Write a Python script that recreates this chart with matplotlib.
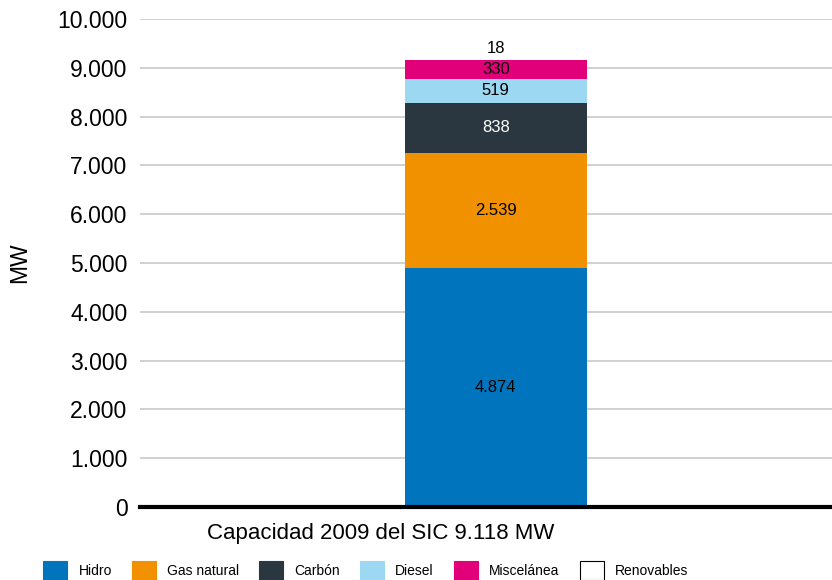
import matplotlib.pyplot as plt
from matplotlib.patches import Patch

plt.rcParams['font.family'] = ['Liberation Sans Narrow', 'Liberation Sans', 'DejaVu Sans']

# Datos
fuentes = ['Hidro', 'Gas natural', 'Carbón', 'Diesel', 'Miscelánea', 'Renovables']
capacidad = [4874, 2539, 838, 519, 330, 18]          # valores rotulados
alto_dibujado = [4900, 2360, 1025, 485, 390, 18]     # alturas tal como se ven en la figura
colores = ['#0075BE', '#F29100', '#2A3740', '#9CD8F2', '#E2007A', '#FFFFFF']
color_texto = ['black', 'black', 'white', 'black', 'black', 'black']
ticks_y = [0, 1000, 2000, 3000, 4000, 5000, 6000, 7000, 8000, 9000, 10000]


def fmt(v):
    return f'{v:,}'.replace(',', '.')


fig = plt.figure(figsize=(8.32, 5.8), dpi=100)
ax = fig.add_axes([140 / 832, 73 / 580, 692 / 832, 488 / 580])

base = 0
for fuente, valor, alto, color, ct in zip(fuentes, capacidad, alto_dibujado, colores, color_texto):
    ax.bar(0, alto, bottom=base, width=0.263, color=color, zorder=3)
    if alto < 100:
        y = base + alto + 210
    else:
        y = base + alto / 2
    ax.text(0, y, fmt(valor), ha='center', va='center', fontsize=12, color=ct, zorder=4)
    base += alto

ax.set_xlim(-0.514, 0.486)
ax.set_ylim(0, 10000)
ax.set_yticks(ticks_y)
ax.set_yticklabels([fmt(t) for t in ticks_y], fontsize=16.5)
ax.set_xticks([])
ax.tick_params(axis='y', length=0, pad=9)
ax.grid(axis='y', color='#c8c8c8', linewidth=1.2, zorder=0)
for s in ['left', 'right', 'top']:
    ax.spines[s].set_visible(False)
ax.spines['bottom'].set_linewidth(3)
ax.spines['bottom'].set_zorder(5)

ax.set_ylabel('MW', fontsize=16.5)
ax.yaxis.set_label_coords(-0.158, 0.5)
ax.text(0.348, -0.055, 'Capacidad 2009 del SIC 9.118 MW', transform=ax.transAxes,
        ha='center', va='center', fontsize=16)

handles = [Patch(facecolor=c, edgecolor='black' if c == '#FFFFFF' else c, linewidth=0.8)
           for c in colores]
fig.legend(handles, fuentes, loc='center left', bbox_to_anchor=(0.052, 0.016), ncol=6,
           frameon=False, fontsize=10, handlelength=1.73, handleheight=1.73,
           handletextpad=0.8, columnspacing=1.45, borderaxespad=0, borderpad=0)

fig.savefig('out.png', dpi=100)
